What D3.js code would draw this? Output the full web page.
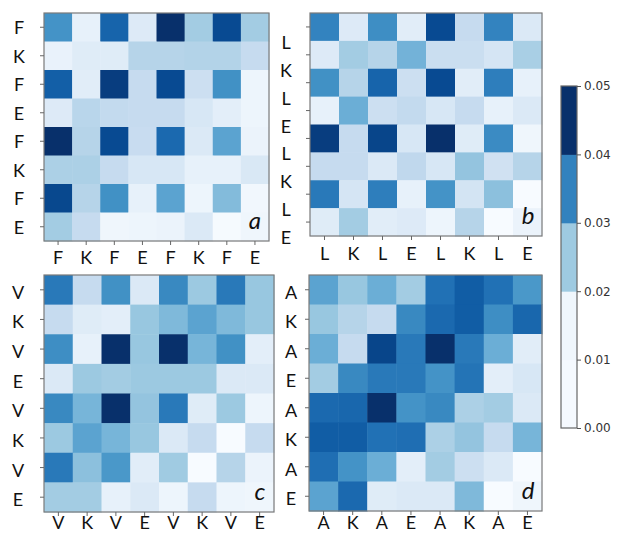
<!DOCTYPE html>
<html>
<head>
<meta charset="utf-8">
<script src="https://cdn.jsdelivr.net/npm/d3@7"></script>
<style>
  html, body { margin: 0; padding: 0; background: #fff; }
  svg { display: block; }
</style>
</head>
<body>
<svg id="chart" width="617" height="533"></svg>
<script>
// Peptide sequences labelling the rows and columns of each map
const seqA = ["F", "K", "F", "E", "F", "K", "F", "E"];
const seqB = ["L", "K", "L", "E", "L", "K", "L", "E"];
const seqC = ["V", "K", "V", "E", "V", "K", "V", "E"];
const seqD = ["A", "K", "A", "E", "A", "K", "A", "E"];

// Contact values, one row per residue (top to bottom)
const valuesA = [
  [0.031, 0.004, 0.040, 0.0065, 0.050, 0.018, 0.045, 0.018],
  [0.0035, 0.006, 0.006, 0.015, 0.015, 0.0155, 0.0155, 0.0125],
  [0.041, 0.0055, 0.0475, 0.0125, 0.045, 0.011, 0.0315, 0.0025],
  [0.0065, 0.0145, 0.013, 0.0125, 0.0125, 0.008, 0.005, 0.0025],
  [0.050, 0.015, 0.045, 0.012, 0.039, 0.007, 0.0275, 0.003],
  [0.0165, 0.0165, 0.0125, 0.008, 0.008, 0.004, 0.004, 0.0075],
  [0.0455, 0.015, 0.0315, 0.004, 0.0275, 0.0025, 0.022, 0.0015],
  [0.018, 0.0125, 0.002, 0.0025, 0.003, 0.007, 0.0005, 0.002]
];
const valuesB = [
  [0.034, 0.0065, 0.032, 0.0055, 0.045, 0.0125, 0.034, 0.007],
  [0.0065, 0.018, 0.015, 0.024, 0.0115, 0.0115, 0.0085, 0.017],
  [0.0315, 0.015, 0.040, 0.011, 0.045, 0.0055, 0.035, 0.004],
  [0.004, 0.025, 0.011, 0.013, 0.008, 0.0125, 0.004, 0.007],
  [0.0475, 0.0125, 0.046, 0.008, 0.050, 0.006, 0.0325, 0.002],
  [0.0125, 0.0125, 0.007, 0.0135, 0.008, 0.020, 0.010, 0.015],
  [0.036, 0.0085, 0.035, 0.004, 0.031, 0.009, 0.021, 0.0],
  [0.006, 0.018, 0.0055, 0.0065, 0.0025, 0.015, 0.0, 0.003]
];
const valuesC = [
  [0.036, 0.0125, 0.0315, 0.007, 0.033, 0.019, 0.036, 0.0195],
  [0.0125, 0.006, 0.005, 0.0195, 0.0225, 0.0275, 0.0225, 0.0195],
  [0.032, 0.004, 0.050, 0.0195, 0.050, 0.0235, 0.0315, 0.005],
  [0.007, 0.019, 0.018, 0.019, 0.019, 0.019, 0.007, 0.007],
  [0.033, 0.0235, 0.050, 0.020, 0.036, 0.006, 0.019, 0.0025],
  [0.019, 0.0275, 0.0235, 0.0195, 0.007, 0.0125, 0.0, 0.0125],
  [0.036, 0.021, 0.030, 0.0055, 0.0185, 0.0, 0.015, 0.003],
  [0.018, 0.018, 0.004, 0.007, 0.0025, 0.0125, 0.0025, 0.002]
];
const valuesD = [
  [0.0275, 0.0195, 0.025, 0.018, 0.0375, 0.0415, 0.0375, 0.030],
  [0.0195, 0.015, 0.0125, 0.033, 0.039, 0.0415, 0.032, 0.0395],
  [0.025, 0.0125, 0.046, 0.036, 0.050, 0.036, 0.025, 0.0055],
  [0.018, 0.033, 0.036, 0.036, 0.031, 0.037, 0.005, 0.008],
  [0.039, 0.0395, 0.050, 0.031, 0.033, 0.0165, 0.018, 0.007],
  [0.0415, 0.0415, 0.0375, 0.038, 0.0165, 0.020, 0.0125, 0.0235],
  [0.038, 0.031, 0.025, 0.005, 0.018, 0.011, 0.007, 0.0],
  [0.0275, 0.039, 0.006, 0.007, 0.007, 0.0225, 0.0, 0.002]
];

const panelLetters = ["a", "b", "c", "d"];
const colorbarTicks = [0.00, 0.01, 0.02, 0.03, 0.04, 0.05];
const colorbarBands = [0.00, 0.01, 0.02, 0.03, 0.04, 0.05];
const vmax = 0.05;

// Blues colour map (linear segments)
const bluesStops = ["#f7fbff", "#deebf7", "#c6dbef", "#9ecae1", "#6baed6",
                    "#4292c6", "#2171b5", "#08519c", "#08306b"];
const color = d3.scaleLinear()
  .domain(d3.range(bluesStops.length).map(i => i / (bluesStops.length - 1) * vmax))
  .range(bluesStops)
  .interpolate(d3.interpolateRgb)
  .clamp(true);

// Stepped fills of the colour bar, lowest band first
const bandColors = ["#f5f9fe", "#eff6fc", "#9ecae1", "#3282be", "#08306b"];

const svg = d3.select("#chart");
const labelFont = "Lato, 'Open Sans', sans-serif";

// Frame of each map and where its labels sit
const panels = [
  { seq: seqA, values: valuesA, letter: panelLetters[0], x0: 44,  x1: 269, y0: 13,  y1: 241, labelDx: 25, labelDy: 0,  xLabelY: 257 },
  { seq: seqB, values: valuesB, letter: panelLetters[1], x0: 310, x1: 542, y0: 13,  y1: 236, labelDx: 24, labelDy: 15, xLabelY: 253 },
  { seq: seqC, values: valuesC, letter: panelLetters[2], x0: 44,  x1: 274, y0: 275, y1: 512, labelDx: 26, labelDy: 2,  xLabelY: 522 },
  { seq: seqD, values: valuesD, letter: panelLetters[3], x0: 309, x1: 542, y0: 275, y1: 511, labelDx: 18, labelDy: 2,  xLabelY: 522 }
];

panels.forEach(p => {
  const idx = d3.range(p.seq.length);
  const x = d3.scaleBand().domain(idx).range([p.x0, p.x1]);
  const y = d3.scaleBand().domain(idx).range([p.y0, p.y1]);
  const g = svg.append("g");

  const cells = [];
  p.values.forEach((row, r) => row.forEach((v, c) => cells.push({ r, c, v })));

  g.selectAll("rect.cell").data(cells).join("rect")
    .attr("class", "cell")
    .attr("x", d => x(d.c))
    .attr("y", d => y(d.r))
    .attr("width", x.bandwidth() + 0.5)
    .attr("height", y.bandwidth() + 0.5)
    .attr("fill", d => color(d.v));

  // frame
  g.append("rect")
    .attr("x", p.x0).attr("y", p.y0)
    .attr("width", p.x1 - p.x0).attr("height", p.y1 - p.y0)
    .attr("fill", "none").attr("stroke", "#7a7a7a").attr("stroke-width", 1.2);

  // tick marks
  g.selectAll("line.yt").data(idx).join("line")
    .attr("x1", p.x0 - 4).attr("x2", p.x0)
    .attr("y1", d => y(d) + y.bandwidth() / 2).attr("y2", d => y(d) + y.bandwidth() / 2)
    .attr("stroke", "#666").attr("stroke-width", 1);
  g.selectAll("line.xt").data(idx).join("line")
    .attr("y1", p.y1).attr("y2", p.y1 + 4)
    .attr("x1", d => x(d) + x.bandwidth() / 2).attr("x2", d => x(d) + x.bandwidth() / 2)
    .attr("stroke", "#666").attr("stroke-width", 1);

  // row labels
  g.selectAll("text.yl").data(idx).join("text")
    .attr("x", p.x0 - p.labelDx)
    .attr("y", d => y(d) + y.bandwidth() / 2 + p.labelDy)
    .attr("text-anchor", "middle")
    .attr("dominant-baseline", "central")
    .attr("font-family", labelFont).attr("font-size", 18).attr("fill", "#111")
    .text(d => p.seq[d]);

  // column labels
  g.selectAll("text.xl").data(idx).join("text")
    .attr("x", d => x(d) + x.bandwidth() / 2)
    .attr("y", p.xLabelY)
    .attr("text-anchor", "middle")
    .attr("dominant-baseline", "central")
    .attr("font-family", labelFont).attr("font-size", 18).attr("fill", "#111")
    .text(d => p.seq[d]);

  // panel letter
  g.append("text")
    .attr("x", p.x1 - 14)
    .attr("y", p.y1 - 12)
    .attr("text-anchor", "middle")
    .attr("font-family", labelFont).attr("font-style", "italic")
    .attr("font-size", 24).attr("fill", "#111")
    .text(p.letter);
});

// Colour bar with discrete bands
const cb = { x: 561, w: 16, y0: 86, y1: 428 };
const cbScale = d3.scaleLinear().domain([0, vmax]).range([cb.y1, cb.y0]);
const bands = d3.pairs(colorbarBands);
svg.selectAll("rect.band").data(bands).join("rect")
  .attr("x", cb.x)
  .attr("y", d => cbScale(d[1]))
  .attr("width", cb.w)
  .attr("height", d => cbScale(d[0]) - cbScale(d[1]) + 0.5)
  .attr("fill", (d, i) => bandColors[i]);
svg.append("rect")
  .attr("x", cb.x).attr("y", cb.y0)
  .attr("width", cb.w).attr("height", cb.y1 - cb.y0)
  .attr("fill", "none").attr("stroke", "#666").attr("stroke-width", 1.2);

const cbAxis = d3.axisRight(cbScale).tickValues(colorbarTicks)
  .tickFormat(d3.format(".2f")).tickSize(4).tickPadding(3);
const cbG = svg.append("g").attr("transform", `translate(${cb.x + cb.w},0)`).call(cbAxis);
cbG.select(".domain").remove();
cbG.selectAll("line").attr("stroke", "#555");
cbG.selectAll("text").attr("font-family", "'DejaVu Sans', sans-serif")
  .attr("font-size", 12).attr("fill", "#333");
</script>
</body>
</html>
